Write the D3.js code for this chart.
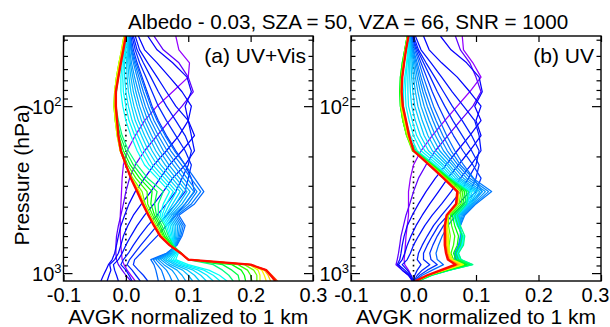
<!DOCTYPE html>
<html>
<head>
<meta charset="utf-8">
<script src="https://cdn.jsdelivr.net/npm/d3@7"></script>
<style>
body { margin: 0; background: #fff; }
text { font-family: "Liberation Sans", Arial, sans-serif; fill: #000; }
</style>
</head>
<body>
<script>
// pressure levels (hPa), surface -> top
const pressureLevels = [1115, 1030, 960, 890, 830, 760, 680, 600, 520, 450, 385, 325, 270, 225, 185, 150, 122, 100, 82, 67, 55, 46, 38];

// AVGK rows, one row per pressure level, one column per kernel (violet -> red)
const uvVisRows = [
  [.015,.008,-.04,-.03,-.012,.01,.023,.035, .052,.063,.074,.085,.096,.107,.118,.129,.14,.151,.162, .172,.182,.192,.202,.21, .215,.225,.232,.238,.243,.24],
  [.008,.0,-.036,-.027,-.015,.005,.016,.028, .05,.06,.07,.08,.09,.1,.11,.12,.13,.14,.15, .165,.18,.19,.2,.21, .215,.222,.228,.232,.234,.232],
  [.002,-.006,-.032,-.024,-.018,.0,.01,.02, .048,.057,.065,.074,.082,.091,.099,.108,.116,.125,.133, .155,.17,.185,.195,.205, .212,.218,.222,.225,.226,.225],
  [-.003,-.012,-.028,-.026,-.02,-.008,.002,.012, .045,.05,.056,.061,.067,.072,.078,.083,.089,.094,.1, .14,.155,.17,.18,.19, .198,.2,.2,.2,.2,.2],
  [-.006,-.015,-.022,-.018,-.012,-.004,.006,.014, .04,.044,.048,.052,.056,.06,.064,.068,.072,.076,.08, .1,.1,.1,.1,.1, .1,.1,.1,.1,.1,.1],
  [-.007,-.016,-.018,-.012,-.006,.004,.014,.024, .065,.066,.068,.07,.072,.074,.076,.078,.08,.082,.084, .088,.089,.089,.089,.089, .088,.088,.088,.088,.088,.088],
  [-.008,-.016,-.015,-.008,.0,.012,.024,.036, .082,.081,.08,.08,.079,.078,.077,.076,.076,.075,.074, .076,.074,.073,.072,.071, .071,.071,.07,.07,.07,.07],
  [-.009,-.015,-.012,-.004,.008,.022,.036,.05, .09,.088,.086,.084,.082,.08,.078,.076,.074,.072,.07, .068,.065,.062,.06,.058, .057,.057,.056,.056,.055,.055],
  [-.009,-.012,-.008,.003,.018,.035,.05,.065, .095,.092,.089,.086,.083,.08,.077,.074,.071,.068,.065, .062,.058,.055,.052,.049, .047,.047,.046,.046,.045,.045],
  [-.009,-.008,-.002,.012,.03,.05,.065,.08, .085,.082,.079,.076,.073,.07,.067,.064,.061,.058,.055, .052,.049,.046,.043,.04, .038,.038,.037,.037,.036,.036],
  [-.008,-.004,.005,.025,.045,.065,.08,.095, .11,.105,.1,.095,.09,.085,.08,.075,.07,.065,.06, .052,.046,.04,.035,.031, .029,.029,.028,.028,.027,.027],
  [-.007,.0,.015,.04,.06,.08,.095,.11, .125,.12,.114,.109,.103,.098,.092,.087,.081,.076,.07, .06,.05,.042,.034,.026, .022,.021,.02,.019,.019,.018],
  [-.006,.006,.03,.055,.075,.09,.1,.105, .11,.104,.098,.092,.086,.08,.074,.068,.062,.056,.05, .035,.028,.022,.016,.011, .009,.009,.009,.008,.008,.008],
  [-.004,.015,.045,.07,.095,.1,.105,.095, .095,.089,.082,.076,.069,.063,.056,.05,.043,.037,.03, .018,.012,.007,.003,.0, .0,.0,.0,.0,.0,.0],
  [.002,.03,.065,.09,.11,.105,.095,.08, .078,.072,.066,.06,.054,.048,.042,.036,.03,.024,.018, .004,.0,-.004,-.007,-.009, -.009,-.009,-.009,-.008,-.008,-.008],
  [.015,.05,.085,.11,.105,.095,.08,.065, .063,.058,.052,.047,.041,.036,.03,.025,.019,.014,.008, -.006,-.009,-.012,-.013,-.014, -.014,-.013,-.013,-.012,-.012,-.012],
  [.03,.07,.1,.1,.1,.08,.065,.052, .05,.045,.04,.035,.03,.025,.02,.015,.01,.005,.0, -.012,-.014,-.016,-.017,-.017, -.017,-.016,-.015,-.015,-.014,-.014],
  [.05,.09,.095,.105,.08,.065,.052,.042, .04,.036,.031,.027,.022,.018,.013,.009,.004,.0,-.005, -.016,-.017,-.018,-.019,-.019, -.019,-.018,-.017,-.017,-.016,-.016],
  [.075,.108,.105,.09,.065,.052,.042,.034, .032,.028,.024,.02,.016,.012,.008,.004,.0,-.004,-.008, -.015,-.016,-.017,-.018,-.018, -.018,-.018,-.017,-.017,-.016,-.016],
  [.1,.1,.098,.07,.05,.04,.032,.026, .024,.021,.018,.014,.011,.008,.005,.002,-.002,-.005,-.008, -.012,-.013,-.014,-.015,-.015, -.015,-.014,-.013,-.013,-.012,-.012],
  [.102,.085,.075,.05,.035,.028,.022,.018, .016,.014,.012,.009,.007,.005,.003,.001,-.002,-.004,-.006, -.008,-.009,-.01,-.011,-.011, -.011,-.01,-.009,-.009,-.008,-.008],
  [.085,.06,.05,.03,.022,.018,.015,.012, .01,.009,.008,.006,.005,.004,.003,.002,.0,-.001,-.002, -.004,-.005,-.006,-.006,-.007, -.007,-.006,-.005,-.005,-.004,-.004],
  [.08,.045,.035,.02,.015,.012,.01,.008, .007,.006,.006,.005,.004,.004,.003,.002,.002,.001,.0, -.001,-.002,-.002,-.003,-.003, -.003,-.002,-.001,-.001,.0,.0]
];

const uvRows = [
  [.0,.0,-.002,-.001,.0,.0,.001,.002,.003, .005,.005,.006,.006,.006,.007,.007,.007,.008,.008, .008,.007,.006,.005,.004, .006,.005,.005,.004,.004,.003],
  [-.004,-.008,-.008,-.006,-.004,.002,.006,.01,.014, .025,.026,.026,.027,.027,.028,.028,.029,.029,.03, .03,.028,.027,.025,.023, .025,.024,.024,.023,.023,.022],
  [-.008,-.018,-.018,-.014,-.01,.006,.014,.022,.03, .05,.051,.052,.053,.054,.055,.056,.057,.057,.058, .058,.056,.054,.05,.048, .05,.049,.048,.046,.045,.044],
  [-.014,-.028,-.026,-.024,-.018,.012,.026,.038,.048, .08,.082,.084,.086,.088,.09,.091,.092,.093,.094, .095,.09,.085,.078,.072, .08,.077,.074,.071,.069,.067],
  [-.015,-.026,-.022,-.018,-.01,.006,.016,.028,.038, .066,.068,.069,.07,.071,.072,.073,.074,.075,.076, .076,.072,.068,.064,.06, .062,.06,.058,.057,.056,.055],
  [-.014,-.024,-.02,-.014,-.005,.008,.016,.026,.036, .066,.067,.068,.068,.069,.07,.07,.071,.071,.072, .072,.068,.064,.06,.056, .058,.056,.055,.054,.053,.052],
  [-.013,-.022,-.018,-.01,.0,.014,.022,.031,.04, .072,.073,.074,.075,.076,.077,.077,.078,.078,.079, .08,.075,.07,.064,.057, .056,.054,.053,.052,.051,.05],
  [-.012,-.02,-.015,-.004,.008,.022,.03,.038,.046, .075,.076,.076,.077,.077,.078,.078,.079,.079,.08, .082,.078,.072,.066,.059, .056,.054,.053,.052,.051,.05],
  [-.01,-.016,-.01,.004,.018,.032,.04,.048,.055, .075,.075,.074,.074,.073,.073,.072,.072,.071,.07, .075,.071,.066,.061,.056, .054,.053,.052,.051,.05,.05],
  [-.008,-.012,-.002,.014,.03,.045,.055,.062,.068, .082,.08,.078,.076,.074,.072,.07,.068,.066,.064, .07,.066,.062,.059,.056, .055,.054,.054,.054,.053,.053],
  [-.008,-.006,.008,.026,.045,.06,.072,.08,.088, .1,.098,.096,.094,.092,.09,.088,.086,.085,.084, .085,.082,.079,.076,.073, .071,.07,.07,.069,.069,.068],
  [-.008,.0,.02,.04,.06,.075,.09,.1,.11, .125,.12,.115,.11,.106,.102,.098,.094,.091,.088, .088,.085,.082,.079,.076, .073,.072,.072,.071,.071,.07],
  [-.005,.008,.035,.055,.075,.088,.1,.108,.096, .095,.09,.085,.08,.075,.071,.067,.063,.06,.058, .058,.056,.055,.053,.052, .05,.049,.049,.048,.048,.048],
  [.0,.02,.052,.072,.092,.1,.105,.095,.08, .075,.071,.066,.062,.057,.053,.048,.044,.039,.035, .032,.031,.03,.029,.028, .027,.026,.026,.025,.025,.025],
  [.012,.035,.07,.09,.108,.105,.093,.079,.066, .06,.054,.048,.042,.036,.03,.024,.018,.012,.006, .004,.002,.0,-.001,-.002, .0,.0,.0,.0,.0,.0],
  [.03,.055,.09,.108,.105,.093,.078,.064,.053, .047,.041,.035,.029,.023,.017,.011,.005,.0,-.005, -.009,-.01,-.011,-.011,-.011, -.009,-.009,-.008,-.008,-.007,-.007],
  [.05,.075,.108,.1,.098,.078,.063,.051,.042, .036,.031,.025,.02,.014,.009,.003,-.002,-.007,-.012, -.016,-.017,-.017,-.017,-.017, -.015,-.014,-.013,-.013,-.012,-.012],
  [.07,.095,.098,.108,.08,.062,.05,.04,.032, .027,.022,.017,.012,.007,.002,-.003,-.008,-.012,-.016, -.02,-.021,-.021,-.02,-.02, -.02,-.019,-.018,-.018,-.017,-.017],
  [.09,.108,.11,.09,.062,.048,.038,.03,.024, .019,.015,.011,.007,.003,-.001,-.005,-.009,-.013,-.016, -.021,-.022,-.022,-.021,-.02, -.02,-.02,-.019,-.019,-.019,-.019],
  [.108,.1,.105,.07,.045,.034,.027,.021,.016, .012,.009,.006,.003,.0,-.003,-.006,-.009,-.012,-.014, -.02,-.021,-.021,-.02,-.019, -.019,-.019,-.018,-.018,-.018,-.018],
  [.095,.09,.085,.045,.028,.02,.016,.012,.009, .006,.004,.002,.0,-.002,-.004,-.006,-.008,-.01,-.011, -.017,-.018,-.018,-.017,-.016, -.016,-.016,-.015,-.015,-.015,-.015],
  [.08,.075,.06,.025,.012,.008,.006,.004,.002, .0,-.001,-.002,-.003,-.004,-.005,-.006,-.007,-.008,-.009, -.013,-.014,-.014,-.014,-.013, -.013,-.013,-.012,-.012,-.012,-.012],
  [.078,.067,.043,.016,.003,.0,-.002,-.003,-.004, -.005,-.005,-.006,-.006,-.007,-.007,-.008,-.008,-.009,-.009, -.009,-.01,-.01,-.01,-.009, -.009,-.009,-.008,-.008,-.008,-.008]
];

const xTicks = [-0.1, 0.0, 0.1, 0.2, 0.3];
const yMajorTicks = [100, 1000];
const yMajorLabels = ["2", "3"];
const yMinorTicks = [40, 50, 60, 70, 80, 90, 200, 300, 400, 500, 600, 700, 800, 900];
const panelLabels = ["(a) UV+Vis", "(b) UV"];
const titleText = "Albedo - 0.03, SZA = 50, VZA = 66, SNR = 1000";
const xTitle = "AVGK normalized to 1 km";
const yTitle = "Pressure (hPa)";

const width = 610, height = 327;
const plotTop = 36, plotBottom = 281;
const fs = 20;    // tick labels
const fsT = 21;   // titles and panel labels

const svg = d3.select("body").append("svg")
    .attr("width", width)
    .attr("height", height);

const y = d3.scaleLog()
    .domain([d3.max(pressureLevels), d3.min(pressureLevels)])
    .range([plotBottom, plotTop]);

// hue per kernel index, IDL-rainbow like
const hue = d3.scaleLinear()
    .domain([0, 1, 2, 7, 8, 18, 19, 23, 24, 27, 29])
    .range([275, 262, 242, 228, 215, 178, 150, 95, 68, 35, 2]);

const panels = [
  {rows: uvVisRows, left: 63.5, right: 313, label: panelLabels[0]},
  {rows: uvRows, left: 351, right: 601, label: panelLabels[1]}
];

svg.append("text")
    .attr("x", 348)
    .attr("y", 29)
    .attr("text-anchor", "middle")
    .style("font-size", "20.6px")
    .text(titleText);

svg.append("text")
    .attr("transform", "translate(29," + 175 + ") rotate(-90)")
    .attr("text-anchor", "middle")
    .style("font-size", fsT + "px")
    .text(yTitle);

panels.forEach(function (pn, pi) {
  const x = d3.scaleLinear().domain([-0.1, 0.3]).range([pn.left, pn.right]);
  const g = svg.append("g");

  g.append("clipPath").attr("id", "clip" + pi)
    .append("rect")
    .attr("x", pn.left).attr("y", plotTop)
    .attr("width", pn.right - pn.left).attr("height", plotBottom - plotTop);

  // zero line
  g.append("line")
    .attr("x1", x(0)).attr("x2", x(0))
    .attr("y1", plotTop).attr("y2", plotBottom)
    .attr("stroke", "#000")
    .attr("stroke-width", 1.6)
    .attr("stroke-dasharray", "1.6,3.6");

  const nk = pn.rows[0].length;
  const series = d3.range(nk).map(k => pressureLevels.map((p, i) => ({p: p, v: pn.rows[i][k]})));

  const line = d3.line()
    .x(d => x(d.v))
    .y(d => y(d.p));

  g.append("g")
    .attr("clip-path", "url(#clip" + pi + ")")
    .selectAll("path")
    .data(series)
    .join("path")
    .attr("d", line)
    .attr("fill", "none")
    .attr("stroke", (d, k) => d3.hsl(hue(k), 1, 0.5).formatHex())
    .attr("stroke-width", (d, k) => k === nk - 1 ? 2.3 : 1.25)
    .attr("stroke-linejoin", "round");

  // axes, ticks inward
  const ax = function (sel) { sel.select(".domain").remove(); sel.selectAll("line").attr("stroke", "#000").attr("stroke-width", 1.2); };

  const xb = g.append("g")
    .attr("transform", "translate(0," + plotBottom + ")")
    .call(d3.axisBottom(x).tickValues(xTicks).tickSizeInner(-6).tickSizeOuter(0).tickPadding(7).tickFormat(d => d.toFixed(1)))
    .call(ax);
  xb.selectAll("text")
    .style("font-size", fs + "px")
    .style("font-family", "Liberation Sans, Arial, sans-serif")
    .attr("fill", "#000")
    .attr("dx", (d, i) => (pi === 1 && i === xTicks.length - 1) ? -6 : 0);

  g.append("g")
    .attr("transform", "translate(0," + plotTop + ")")
    .call(d3.axisTop(x).tickValues(xTicks).tickSizeInner(-6).tickSizeOuter(0).tickFormat(""))
    .call(ax);

  [[d3.axisLeft, pn.left], [d3.axisRight, pn.right]].forEach(function (a) {
    g.append("g")
      .attr("transform", "translate(" + a[1] + ",0)")
      .call(a[0](y).tickValues(yMajorTicks).tickSizeInner(-9).tickSizeOuter(0).tickFormat(""))
      .call(ax);
    g.append("g")
      .attr("transform", "translate(" + a[1] + ",0)")
      .call(a[0](y).tickValues(yMinorTicks).tickSizeInner(-4.5).tickSizeOuter(0).tickFormat(""))
      .call(ax);
  });

  yMajorTicks.forEach(function (t, i) {
    const tx = g.append("text")
      .attr("x", pn.left - 2)
      .attr("y", y(t) + 8)
      .attr("text-anchor", "end")
      .style("font-size", fs + "px");
    tx.append("tspan").text("10");
    tx.append("tspan").attr("dy", -8).style("font-size", "13px").text(yMajorLabels[i]);
  });

  g.append("rect")
    .attr("x", pn.left).attr("y", plotTop)
    .attr("width", pn.right - pn.left).attr("height", plotBottom - plotTop)
    .attr("fill", "none")
    .attr("stroke", "#000")
    .attr("stroke-width", 1.4);

  g.append("text")
    .attr("x", pn.right - 7)
    .attr("y", 63)
    .attr("text-anchor", "end")
    .style("font-size", fsT + "px")
    .text(pn.label);

  g.append("text")
    .attr("x", (pn.left + pn.right) / 2)
    .attr("y", 324)
    .attr("text-anchor", "middle")
    .style("font-size", fsT + "px")
    .text(xTitle);
});
</script>
</body>
</html>
